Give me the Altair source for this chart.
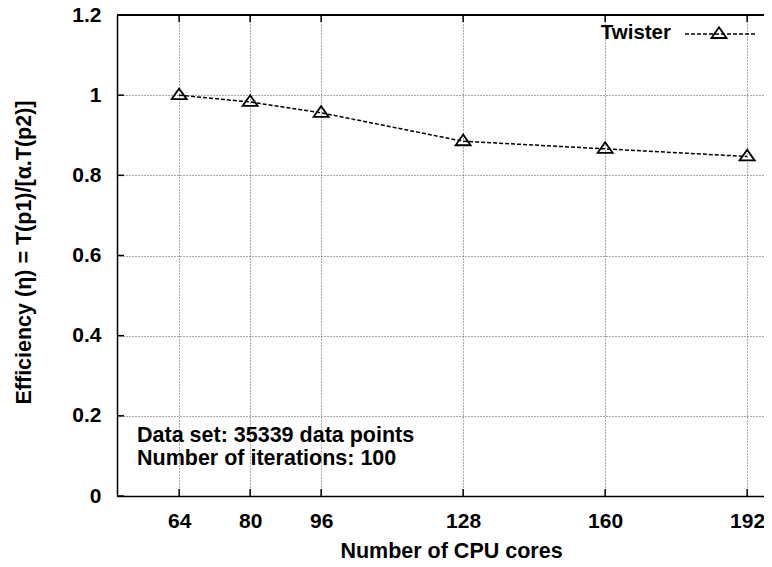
import altair as alt
import pandas as pd

# ---- data ----
cores = [64, 80, 96, 128, 160, 192]
efficiency = [1.0, 0.983, 0.956, 0.885, 0.866, 0.847]
series_name = "Twister"
x_ticks = [64, 80, 96, 128, 160, 192]
y_ticks = [0, 0.2, 0.4, 0.6, 0.8, 1.0, 1.2]
notes = ["Data set: 35339 data points", "Number of iterations: 100"]
x_title = "Number of CPU cores"
y_title = "Efficiency (\u03b7) = T(p1)/[\u03b1.T(p2)]"

# ---- layout / style ----
W, H = 647, 481
FONT = "Liberation Sans"
TRI = "M0,-0.89L1,0.53L-1,0.53Z"
LBL = 21
TTL = 21.5

df = pd.DataFrame({"cores": cores, "eff": efficiency})
xs = alt.Scale(domain=[50, 195.8], nice=False, zero=False)
ys = alt.Scale(domain=[0, 1.2], nice=False, zero=False)

x_axis = alt.Axis(
    values=x_ticks, title=x_title, ticks=False, labelPadding=31,
    labelBaseline="alphabetic", labelFontSize=LBL, labelFont=FONT, labelFontWeight="bold",
    labelColor="black",
    titleFont=FONT, titleFontSize=TTL, titleFontWeight="bold", titleColor="black",
    titleX=334, titleY=61, titleBaseline="alphabetic", titleAlign="center",
    domainColor="black", domainWidth=1.5,
    grid=True, gridColor="#555", gridDash=[1, 2], gridWidth=1,
)
y_axis = alt.Axis(
    values=y_ticks, title=y_title, ticks=False, labelPadding=16, format=".1~f",
    labelFontSize=LBL, labelFont=FONT, labelFontWeight="bold", labelColor="black",
    labelBaseline="middle",
    titleFont=FONT, titleFontSize=TTL, titleFontWeight="bold", titleColor="black",
    titleX=-87, titleY=237, titleAngle=-90, titleBaseline="alphabetic", titleAlign="center",
    domainColor="black", domainWidth=1.5,
    grid=True, gridColor="#555", gridDash=[1, 2], gridWidth=1,
)

xe = alt.X("cores:Q", scale=xs, axis=x_axis)
ye = alt.Y("eff:Q", scale=ys, axis=y_axis)

base = alt.Chart(df)
line = base.mark_line(color="black", strokeDash=[4, 2], strokeWidth=1.5).encode(x=xe, y=ye)
pts = base.mark_point(shape=TRI, size=225, filled=False, color="black",
                      strokeWidth=1.8, opacity=1).encode(x=xe, y=ye)

# inward ticks
xt = pd.DataFrame({"cores": x_ticks})
yt = pd.DataFrame({"eff": y_ticks})
bottom_ticks = alt.Chart(xt).mark_rule(color="black", strokeWidth=1.5).encode(
    x=xe, y=alt.value(H), y2=alt.value(H - 7))
top_ticks = alt.Chart(xt).mark_rule(color="black", strokeWidth=1.5).encode(
    x=xe, y=alt.value(0), y2=alt.value(7))
left_ticks = alt.Chart(yt).mark_rule(color="black", strokeWidth=1.5).encode(
    y=ye, x=alt.value(0), x2=alt.value(7))
top_border = alt.Chart(xt).mark_rule(color="black", strokeWidth=1.5).encode(
    x=alt.value(0), x2=alt.value(W), y=alt.value(0))

# legend (manual)
leg = pd.DataFrame({"label": [series_name]})
leg_text = alt.Chart(leg).mark_text(align="right", baseline="middle", font=FONT,
                                    fontSize=20.5, fontWeight="bold", color="black").encode(
    text="label:N", x=alt.value(554), y=alt.value(18))
leg_line = alt.Chart(leg).mark_rule(color="black", strokeDash=[4, 2], strokeWidth=1.5).encode(
    x=alt.value(568), x2=alt.value(640), y=alt.value(19))
leg_pt = alt.Chart(leg).mark_point(shape=TRI, size=225, filled=False, color="black",
                                   strokeWidth=1.8, opacity=1).encode(
    x=alt.value(602), y=alt.value(19))

# annotation (two lines)
note1 = alt.Chart(pd.DataFrame({"note": [notes[0]]})).mark_text(
    align="left", baseline="alphabetic", font=FONT, fontSize=TTL, fontWeight="bold",
    color="black").encode(text="note:N", x=alt.value(20), y=alt.value(427))
note2 = alt.Chart(pd.DataFrame({"note": [notes[1]]})).mark_text(
    align="left", baseline="alphabetic", font=FONT, fontSize=TTL, fontWeight="bold",
    color="black").encode(text="note:N", x=alt.value(20), y=alt.value(449.5))

chart = alt.layer(
    line, pts, bottom_ticks, top_ticks, left_ticks, top_border,
    leg_text, leg_line, leg_pt, note1, note2,
).properties(
    width=W, height=H,
    autosize=alt.AutoSizeParams(type="none"),
    padding={"left": 109, "top": 7, "right": 0, "bottom": 62},
    background="white",
).configure_view(stroke=None)

chart.save("out.html", embed_options={"renderer": "svg", "actions": False})
